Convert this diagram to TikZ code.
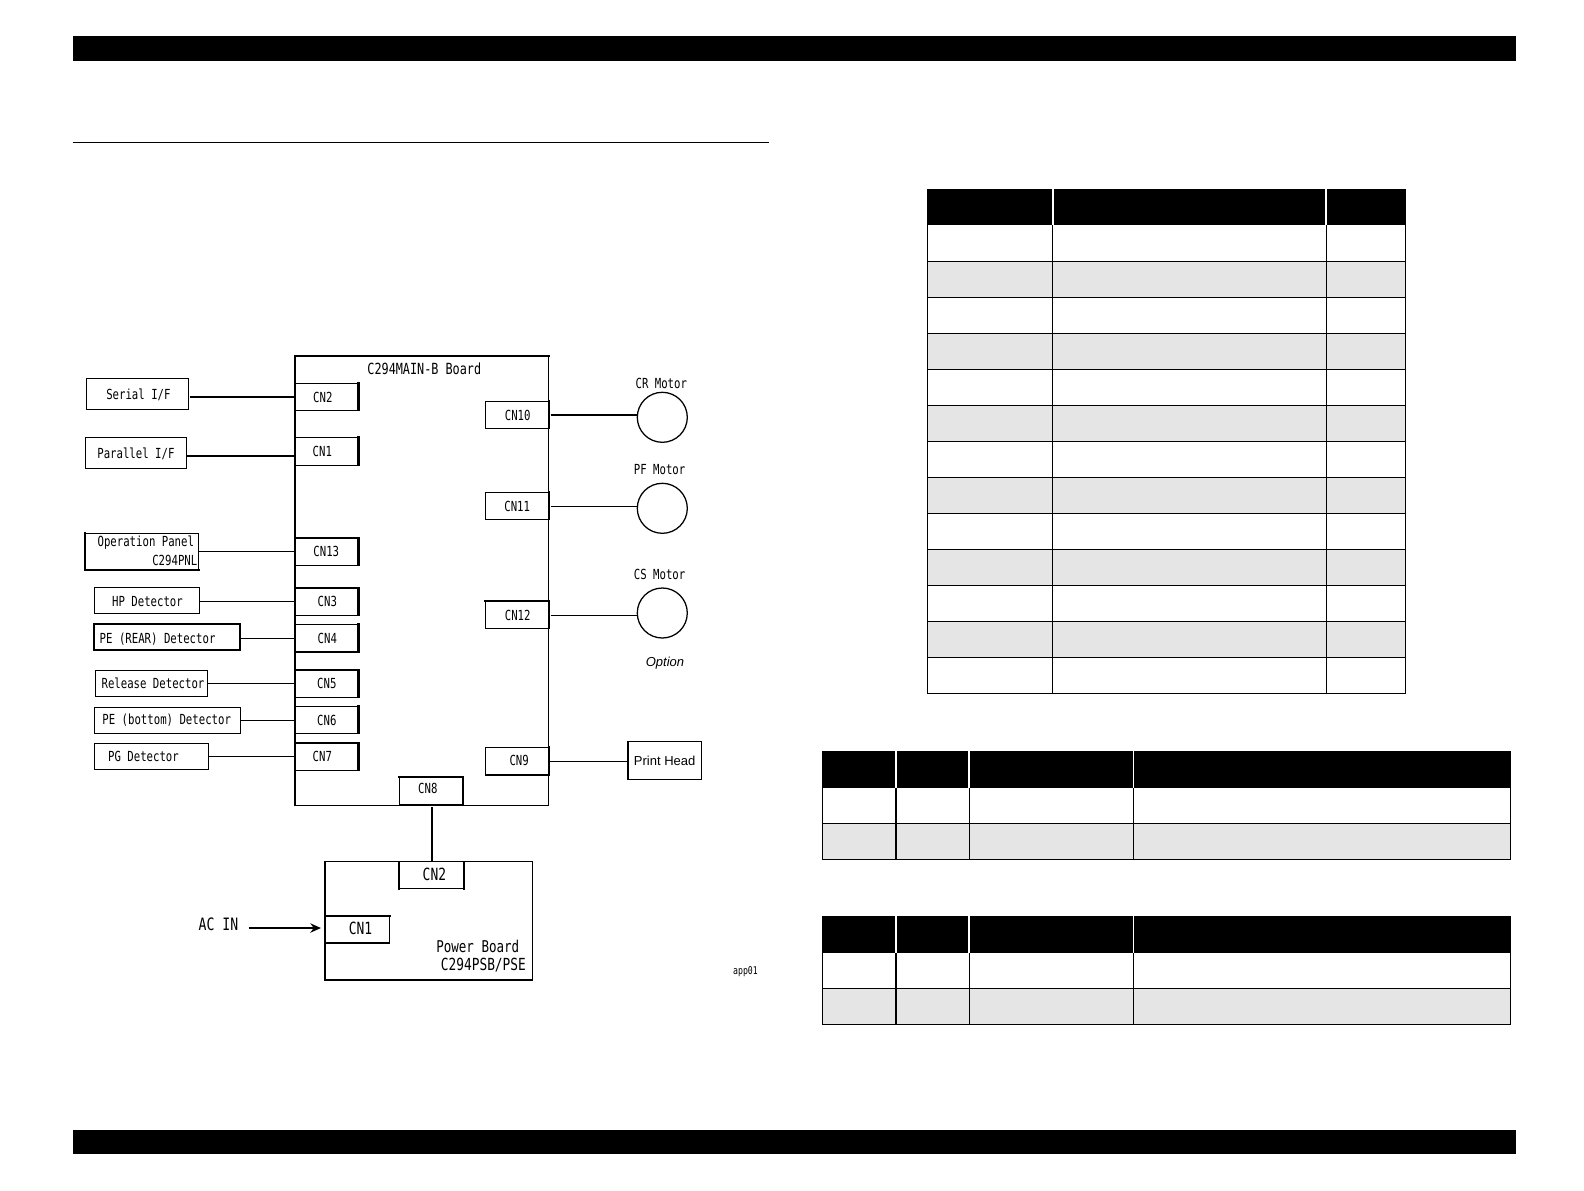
\documentclass[tikz,border=0pt]{standalone}
\usepackage{fontspec}
\setmainfont{Liberation Sans}
\newfontfamily\gothic[FakeStretch=0.77]{DejaVu Sans Mono}
\usetikzlibrary{fit,arrows.meta}
\newcommand{\gfont}[1]{\gothic\fontsize{#1}{#1}\selectfont}
\tikzset{
  x=0.75pt,y=-0.75pt,
  bx/.style={draw=black,line width=0.85pt,fill=white,inner sep=0pt,outer sep=0pt},
  txt/.style={inner sep=0pt,outer sep=0pt,font=\gfont{10.4pt}},
  wire/.style={draw=black,line width=0.7pt},
  fatwire/.style={draw=black,line width=1.75pt},
  fat/.style={draw=black,line width=1.7pt,line cap=rect},
  motor/.style={draw=black,line width=0.95pt,fill=white,circle,minimum size=37.5pt,inner sep=0pt,outer sep=0pt},
  tline/.style={draw=black,line width=0.95pt},
  hsep/.style={draw=white,line width=1.4pt},
}
% name, x1, y1, x2, y2, text x, text y, text
\newcommand{\Bx}[8]{%
  \node[bx,fit={(#2,#3)(#4,#5)}] (#1) {};
  \node[txt] (#1-t) at (#6,#7) {#8};
}
\begin{document}
\begin{tikzpicture}
\useasboundingbox (0,0) rectangle (1584,1190);
\fill[white] (0,0) rectangle (1584,1190);
% page furniture
\fill[black] (72.7,36.4) rectangle (1516.3,60.6);
\fill[black] (72.7,1130.4) rectangle (1516.3,1153.6);
\draw[black,line width=0.8pt] (72.7,142.4) -- (768.8,142.4);
% main board
\node[bx,fit={(295,355.7)(548.7,805.3)}] (board) {};
\draw[fat] (board.south west) -- (board.north west) -- (board.north east);
\node[txt,font=\gfont{11.5pt}] (board-t) at (424.3,368.7) {C294MAIN-B Board};
% left connectors
\Bx{cnii}{295}{383.3}{358.6}{410.3}{322.8}{397}{CN2}
\Bx{cni}{295}{437.3}{358.6}{465.3}{322.3}{451.6}{CN1}
\Bx{cnxiii}{295}{537.7}{358.6}{565.3}{326.3}{551.6}{CN13}
\Bx{cniii}{295}{588.3}{358.6}{615.3}{327.3}{601.6}{CN3}
\Bx{cniv}{295}{624.3}{358.6}{652}{327.3}{638.5}{CN4}
\Bx{cnv}{295}{670}{358.6}{697.3}{326.8}{683.9}{CN5}
\Bx{cnvi}{295}{706.3}{358.6}{733.3}{326.8}{720.3}{CN6}
\Bx{cnvii}{295}{743}{358.6}{770.3}{322.3}{756.6}{CN7}
% right and bottom connectors
\Bx{cnx}{485.3}{401.3}{549.2}{428.3}{517.7}{415.2}{CN10}
\Bx{cnxi}{485.3}{492.3}{549.2}{519.3}{517.2}{506}{CN11}
\Bx{cnxii}{485.3}{600.7}{549.2}{628.3}{517.7}{615.2}{CN12}
\Bx{cnix}{485.3}{747.6}{549.2}{775}{519.2}{760.7}{CN9}
\Bx{cnviii}{399.4}{777}{463.2}{805}{427.8}{788}{CN8}
% thick sides of connectors
\foreach \n in {cnii,cni,cnvi,cnx,cnxi,cnix}
  \draw[fat] (\n.north east) -- (\n.south east);
\foreach \n in {cnxiii,cniii,cnv,cnvii,cnxii,cnviii}
  \draw[fat] (\n.north west) -- (\n.north east) -- (\n.south east);
\draw[fat] (cniv.north east) -- (cniv.south east) -- (cniv.south west);
\draw[fat] (board.south west) -- (board.north west);
% left boxes
\Bx{serial}{86.3}{378.3}{188.3}{409.3}{138.4}{394.4}{Serial I/F}
\Bx{parallel}{85.3}{437.3}{186.7}{468.3}{135.9}{453.9}{Parallel I/F}
\node[bx,fit={(84.7,533.3)(198.7,570)}] (panel) {};
\draw[fat,line width=1.5pt] (panel.north west) -- (panel.south west) -- (panel.south east);
\node[txt] (panel-a) at (145.8,543) {Operation Panel};
\node[txt] (panel-b) at (174.8,560.7) {C294PNL};
\Bx{hp}{94.3}{587.3}{199.3}{613.3}{147.5}{601.6}{HP Detector}
\Bx{rear}{94.3}{623.7}{240.3}{650}{157.6}{638.8}{PE (REAR) Detector}
\draw[fat] (rear.north west) rectangle (rear.south east);
\Bx{release}{95.3}{670.3}{207.3}{696.3}{153}{683.4}{Release Detector}
\Bx{bottom}{94.3}{707.3}{240.3}{733.3}{166.7}{720.3}{PE (bottom) Detector}
\Bx{pg}{94.3}{743.3}{208.3}{769.3}{143.5}{756.6}{PG Detector}
% left wires
\draw[fatwire] (serial.east |- 0,396.7) ++(1.7,0) -- (cnii.west |- 0,396.7);
\draw[fatwire] (parallel.east |- 0,455.7) ++(0.6,0) -- (cni.west |- 0,455.7);
\draw[wire] (panel.east |- 0,551.3) -- (cnxiii.west |- 0,551.3);
\draw[wire] (hp.east |- 0,601.3) -- (cniii.west |- 0,601.3);
\draw[wire] (rear.east |- 0,638.3) -- (cniv.west |- 0,638.3);
\draw[wire] (release.east |- 0,683.3) -- (cnv.west |- 0,683.3);
\draw[wire] (bottom.east |- 0,720.3) -- (cnvi.west |- 0,720.3);
\draw[wire] (pg.east |- 0,756.3) -- (cnvii.west |- 0,756.3);
% motors
\node[motor] (cr) at (662.3,417.3) {};
\node[motor] (pf) at (662.3,508.3) {};
\node[motor] (cs) at (662.3,613) {};
\node[txt] (cr-t) at (661.3,383.3) {CR Motor};
\node[txt] (pf-t) at (659.6,469.3) {PF Motor};
\node[txt] (cs-t) at (659.6,574.3) {CS Motor};
\node[inner sep=0pt,font=\fontsize{9.75pt}{10pt}\selectfont\itshape] (opt) at (665,662.8) {Option};
\draw[fatwire] (cnx.east |- 0,415) ++(1.3,0) -- (cr.west |- 0,415);
\draw[wire] (cnxi.east |- 0,506.3) ++(1.3,0) -- (pf.west |- 0,506.3);
\draw[wire] (cnxii.east |- 0,615.3) ++(1.3,0) -- (cs.west |- 0,615.3);
% print head
\node[bx,fit={(628,741.5)(701.5,779.5)}] (head) {};
\draw[fat,line width=1.4pt] (head.north west) -- (head.south west);
\node[inner sep=0pt,font=\fontsize{9.75pt}{10pt}\selectfont] (head-t) at (664.7,760.7) {Print Head};
\draw[wire] (cnix.east |- 0,761.3) ++(1,0) -- (head.west |- 0,761.3);
% power board
\node[bx,fit={(325,861.7)(532.4,980)}] (power) {};
\draw[fat] (power.north west) -- (power.south west);
\node[bx,fit={(399.4,861.7)(464.4,888.6)}] (pcnii) {};
\draw[fat,line width=1.4pt] (pcnii.north west) -- (pcnii.south west);
\draw[fat,line width=1.4pt] (pcnii.north east) -- (pcnii.south east);
\node[txt,font=\gfont{12.6pt}] (pcnii-t) at (434.4,874) {CN2};
\node[bx,fit={(325,916)(389.6,943)}] (pcni) {};
\draw[fat,line width=1.4pt] (pcni.north west) -- (pcni.north east);
\draw[fat] (pcni.north west) -- (pcni.south west);
\node[txt,font=\gfont{12.6pt}] (pcni-t) at (360.6,928.4) {CN1};
\node[txt,font=\gfont{12.2pt}] (pw-a) at (477.8,946.6) {Power Board};
\node[txt,font=\gfont{12.5pt}] (pw-b) at (483.4,964.9) {C294PSB/PSE};
\node[txt,font=\gfont{8pt}] (app) at (745.5,971.8) {app01};
\node[txt,font=\gfont{12.8pt}] (acin) at (218.5,924.3) {AC IN};
\coordinate (acstart) at (248.5,928);
\draw[black,line width=1.5pt,-{Stealth[length=8pt,width=7pt]},shorten >=3pt] (acstart) -- (pcni.west |- acstart);
\draw[black,line width=1.5pt] (cnviii.south -| 432.4,0) ++(0,2) -- (pcnii.north -| 432.4,0);
% table 1
\foreach \i in {1,3,...,11} {
  \pgfmathsetmacro{\ya}{225.3+36*\i}
  \pgfmathsetmacro{\yb}{261.3+36*\i}
  \fill[black!10] (927.3,\ya) rectangle (1405.7,\yb);
}
\foreach \i in {0,...,12} {
  \pgfmathsetmacro{\yb}{261.3+36*\i}
  \draw[tline,line width=0.85pt] (927.3,\yb) -- (1405.7,\yb);
}
\foreach \x in {927.3,1052.3,1326.3,1405.7} \draw[tline,line width=0.85pt] (\x,225) -- (\x,693.3);
\fill[black] (926.8,189) rectangle (1406.2,225);
\foreach \x in {1052.8,1326.3} \draw[hsep] (\x,189) -- (\x,225);
% tables 2 and 3
\foreach \t in {751,916} {
  \pgfmathsetmacro{\ta}{\t+36.5}
  \pgfmathsetmacro{\tb}{\t+72.3}
  \pgfmathsetmacro{\tc}{\t+108.3}
  \fill[black!10] (822.3,\tb) rectangle (1510.8,\tc);
  \foreach \x in {822.3,896,969.3,1133.5,1510.8} \draw[tline,line width=0.85pt] (\x,\ta) -- (\x,\tc);
  \draw[tline,line width=0.85pt] (822.3,\tb) -- (1510.8,\tb);
  \draw[tline] (822,\tc) -- (1511.3,\tc);
  \fill[black] (822,\t) rectangle (1511.3,\ta);
  \foreach \x in {896,969.3,1133.5} \draw[hsep] (\x,\t) -- (\x,\ta);
}
\end{tikzpicture}
\end{document}
